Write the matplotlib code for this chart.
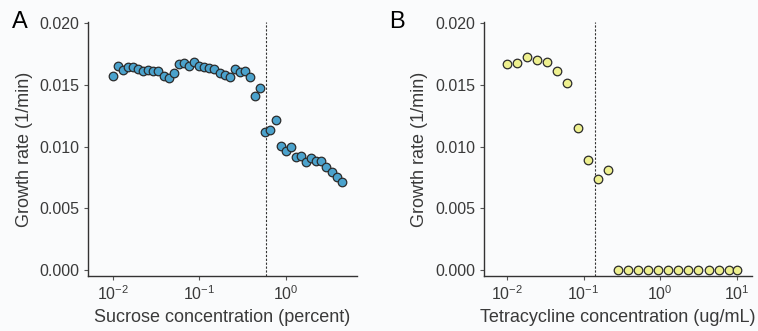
import matplotlib
matplotlib.use("Agg")
import matplotlib.pyplot as plt
from matplotlib.ticker import NullLocator, FixedLocator

# ---- data ----
sucrose_conc = [0.0100, 0.0115, 0.0131, 0.0150, 0.0172, 0.0197, 0.0226, 0.0258, 0.0296, 0.0339,
                0.0388, 0.0444, 0.0508, 0.0582, 0.0667, 0.0763, 0.0874, 0.100, 0.115, 0.131,
                0.150, 0.172, 0.197, 0.226, 0.258, 0.296, 0.339, 0.388, 0.444, 0.508,
                0.582, 0.667, 0.763, 0.874, 1.00, 1.15, 1.31, 1.50, 1.72, 1.97,
                2.26, 2.58, 2.96, 3.39, 3.88, 4.44]
sucrose_rate = [0.01571, 0.01652, 0.01623, 0.01647, 0.01647, 0.01628, 0.01615, 0.01620, 0.01609, 0.01612,
                0.01574, 0.01558, 0.01598, 0.01666, 0.01677, 0.01650, 0.01682, 0.01652, 0.01644, 0.01633,
                0.01625, 0.01598, 0.01582, 0.01563, 0.01625, 0.01606, 0.01609, 0.01563, 0.01412, 0.01472,
                0.01121, 0.01132, 0.01218, 0.01003, 0.00962, 0.01000, 0.00916, 0.00927, 0.00873, 0.00911,
                0.00879, 0.00879, 0.00838, 0.00792, 0.00755, 0.00709]
sucrose_threshold = 0.60

tet_conc = [0.0100, 0.0135, 0.0183, 0.0248, 0.0336, 0.0455, 0.0616, 0.0834, 0.113, 0.153,
            0.207, 0.280, 0.379, 0.513, 0.695, 0.941, 1.27, 1.72, 2.34, 3.16,
            4.28, 5.80, 7.85, 10.0]
tet_rate = [0.01666, 0.01679, 0.01725, 0.01698, 0.01685, 0.01612, 0.01515, 0.01154, 0.00889, 0.00741,
            0.00814, 0.0, 0.0, 0.0, 0.0, 0.0, 0.0, 0.0, 0.0, 0.0,
            0.0, 0.0, 0.0, 0.0]
tet_threshold = 0.139

yticks = [0.000, 0.005, 0.010, 0.015, 0.020]
ytick_labels = ["0.000", "0.005", "0.010", "0.015", "0.020"]

BG = "#fafbfc"
TXT = "#3a3a3a"
plt.rcParams['font.family'] = ['Liberation Sans', 'DejaVu Sans']

fig = plt.figure(figsize=(7.58, 3.31), dpi=100, facecolor=BG)
axA = fig.add_axes([0.116, 0.166, 0.355, 0.768])
axB = fig.add_axes([0.638, 0.166, 0.354, 0.768])

def style(ax, xlim, xticks, xlabel):
    ax.set_facecolor(BG)
    ax.set_xscale('log')
    ax.set_xlim(*xlim)
    ax.set_ylim(-0.00049, 0.0201)
    ax.xaxis.set_major_locator(FixedLocator(xticks))
    ax.xaxis.set_minor_locator(NullLocator())
    ax.set_yticks(yticks)
    ax.set_yticklabels(ytick_labels)
    for s in ['top', 'right']:
        ax.spines[s].set_visible(False)
    for s in ['left', 'bottom']:
        ax.spines[s].set_color('#333333')
        ax.spines[s].set_linewidth(1.0)
    ax.tick_params(axis='both', length=3, width=0.8, color='#555555', labelsize=11.5,
                   labelcolor=TXT, pad=3)
    ax.set_xlabel(xlabel, fontsize=13, color=TXT, labelpad=4)
    ax.set_ylabel("Growth rate (1/min)", fontsize=13, color=TXT, labelpad=5)

style(axA, (10**-2.285, 10**0.824), [0.01, 0.1, 1], "Sucrose concentration (percent)")
style(axB, (10**-2.305, 10**1.198), [0.01, 0.1, 1, 10], "Tetracycline concentration (ug/mL)")

axA.scatter(sucrose_conc, sucrose_rate, s=38, facecolor='#4ba2cc', edgecolor='#2b2b2b',
            linewidth=0.9, zorder=3, clip_on=False)
axB.scatter(tet_conc, tet_rate, s=38, facecolor='#eef08f', edgecolor='#2b2b2b',
            linewidth=0.9, zorder=3, clip_on=False)

axA.axvline(sucrose_threshold, color='#333333', linestyle=(0, (2, 1.5)), linewidth=0.8, zorder=2)
axB.axvline(tet_threshold, color='#333333', linestyle=(0, (2, 1.5)), linewidth=0.8, zorder=2)

fig.text(0.016, 0.934, "A", fontsize=17, color='black', ha='left', va='center')
fig.text(0.514, 0.934, "B", fontsize=17, color='black', ha='left', va='center')

fig.savefig("out.png", dpi=100, facecolor=BG)
